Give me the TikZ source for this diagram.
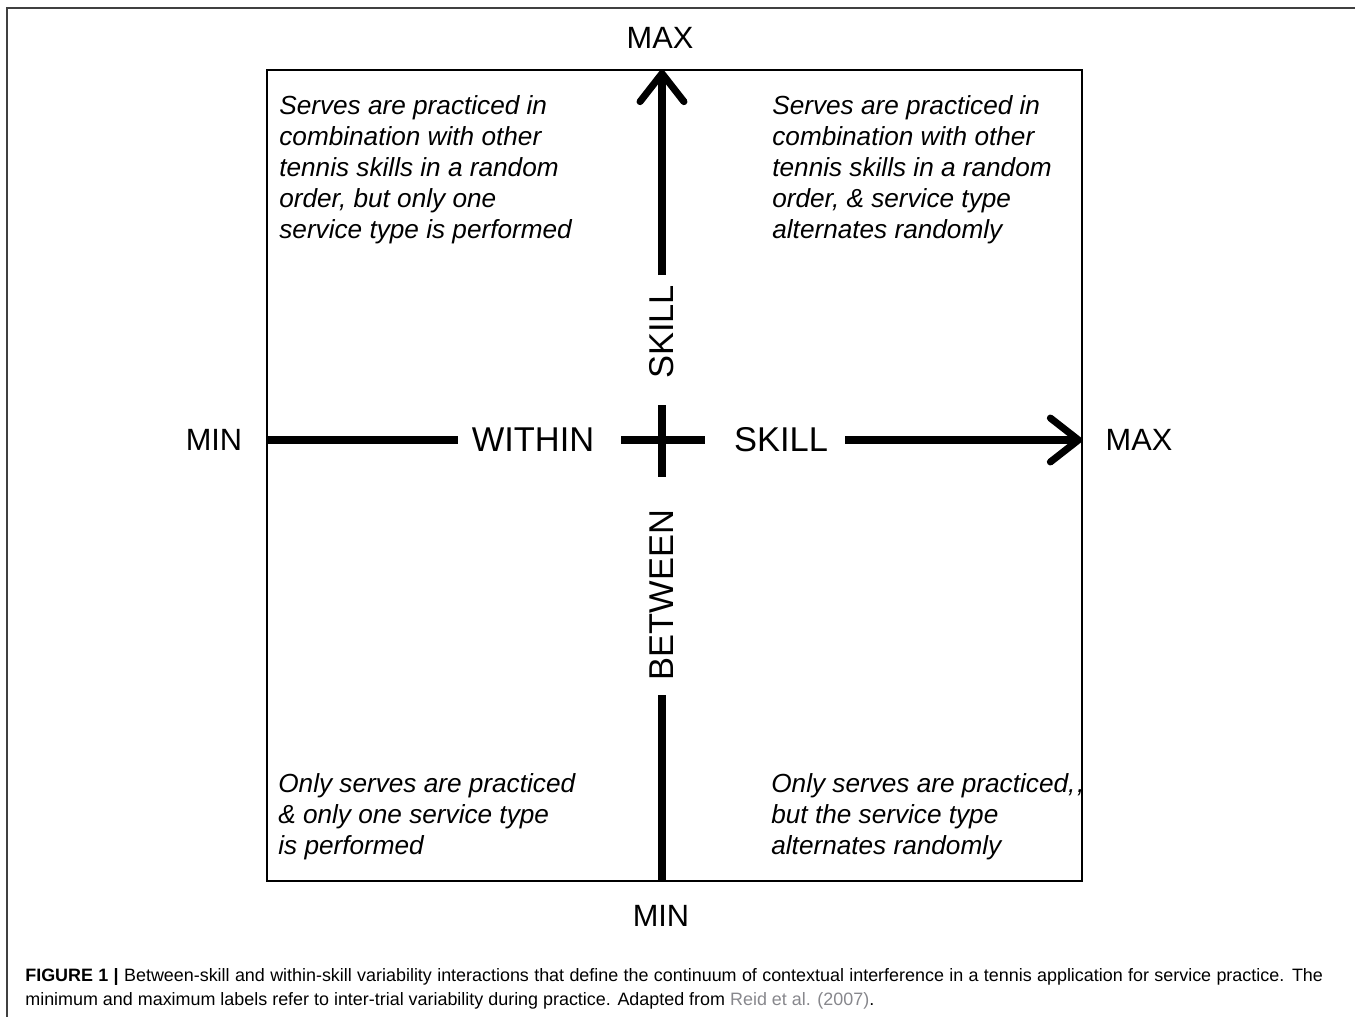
\documentclass[tikz,border=0pt]{standalone}
\usepackage{fontspec}
\setmainfont{Liberation Sans}
\usetikzlibrary{arrows.meta}
\definecolor{refgray}{RGB}{135,135,140}

\tikzset{
  axisline/.style={line width=4pt},
  axisarrow/.style={axisline,-{Straight Barb[length=16pt,width=25pt,line cap=round,line join=round]}},
  endlabel/.style={inner sep=0pt,font=\fontsize{17.5}{20}\selectfont},
  axislabel/.style={inner sep=0pt,font=\fontsize{19.6}{22}\selectfont},
  quadtext/.style={anchor=north west,inner sep=0pt,align=left,font=\fontsize{14.9}{17.6}\selectfont\itshape},
  captext/.style={anchor=base west,inner sep=0pt,font=\fontsize{10.2}{12}\selectfont},
}

\begin{document}
\begin{tikzpicture}[x=0.02cm,y=-0.02cm]
    \useasboundingbox (0,0) rectangle (1355,1017);
    \draw[black!75,line width=1.2pt] (7,1017) -- (7,8) -- (1355,8);
    \draw[line width=1.1pt] (267,70) rectangle (1082,881);

    % end points on the square
    \coordinate (boxW) at (267,440);
    \coordinate (boxE) at (1082,440);
    \coordinate (boxN) at (662,70);
    \coordinate (boxS) at (662,881);
    \coordinate (withinL) at (458,440);
    \coordinate (withinR) at (621,440);
    \coordinate (skillL) at (705,440);
    \coordinate (skillR) at (845,440);
    \coordinate (skillB) at (662,275);
    \coordinate (crossN) at (662,405);
    \coordinate (crossS) at (662,477);
    \coordinate (betweenB) at (662,695);

    % labels
    \node[endlabel] (maxN) at (660,38) {MAX};
    \node[endlabel] (minS) at (661,916) {MIN};
    \node[endlabel] (minW) at (214,440) {MIN};
    \node[endlabel] (maxE) at (1139,440) {MAX};
    \node[axislabel] (within) at (533,440) {WITHIN};
    \node[axislabel] (skillH) at (781,440) {SKILL};
    \node[axislabel,rotate=90] (skillV) at (662,332) {SKILL};
    \node[axislabel,rotate=90] (between) at (662,595) {BETWEEN};

    % axes
    \draw[axisline] (boxW) -- (withinL);
    \draw[axisline] (withinR) -- (skillL);
    \draw[axisarrow] (skillR) -- (boxE);
    \draw[axisarrow] (skillB) -- (boxN);
    \draw[axisline] (crossN) -- (crossS);
    \draw[axisline] (betweenB) -- (boxS);

    % quadrants
    \node[quadtext] (qNW) at (279,95) {Serves are practiced in\\combination with other\\tennis skills in a random\\order, but only one\\service type is performed};
    \node[quadtext] (qNE) at (772,95) {Serves are practiced in\\combination with other\\tennis skills in a random\\order, \& service type\\alternates randomly};
    \node[quadtext] (qSW) at (278,773) {Only serves are practiced\\\& only one service type\\is performed};
    \node[quadtext] (qSE) at (771,773) {Only serves are practiced,\kern1pt,\\but the service type\\alternates randomly};

    % caption
    \node[captext] (cap1) at (25,981) {\makebox[25.96cm][s]{\textbf{FIGURE 1 |} Between-skill and within-skill variability interactions that define the continuum of contextual interference in a tennis application for service practice. The}};
    \node[captext] (cap2) at (25,1005) {minimum and maximum labels refer to inter-trial variability during practice. Adapted from \textcolor{refgray}{Reid et al. (2007)}.};
\end{tikzpicture}
\end{document}
